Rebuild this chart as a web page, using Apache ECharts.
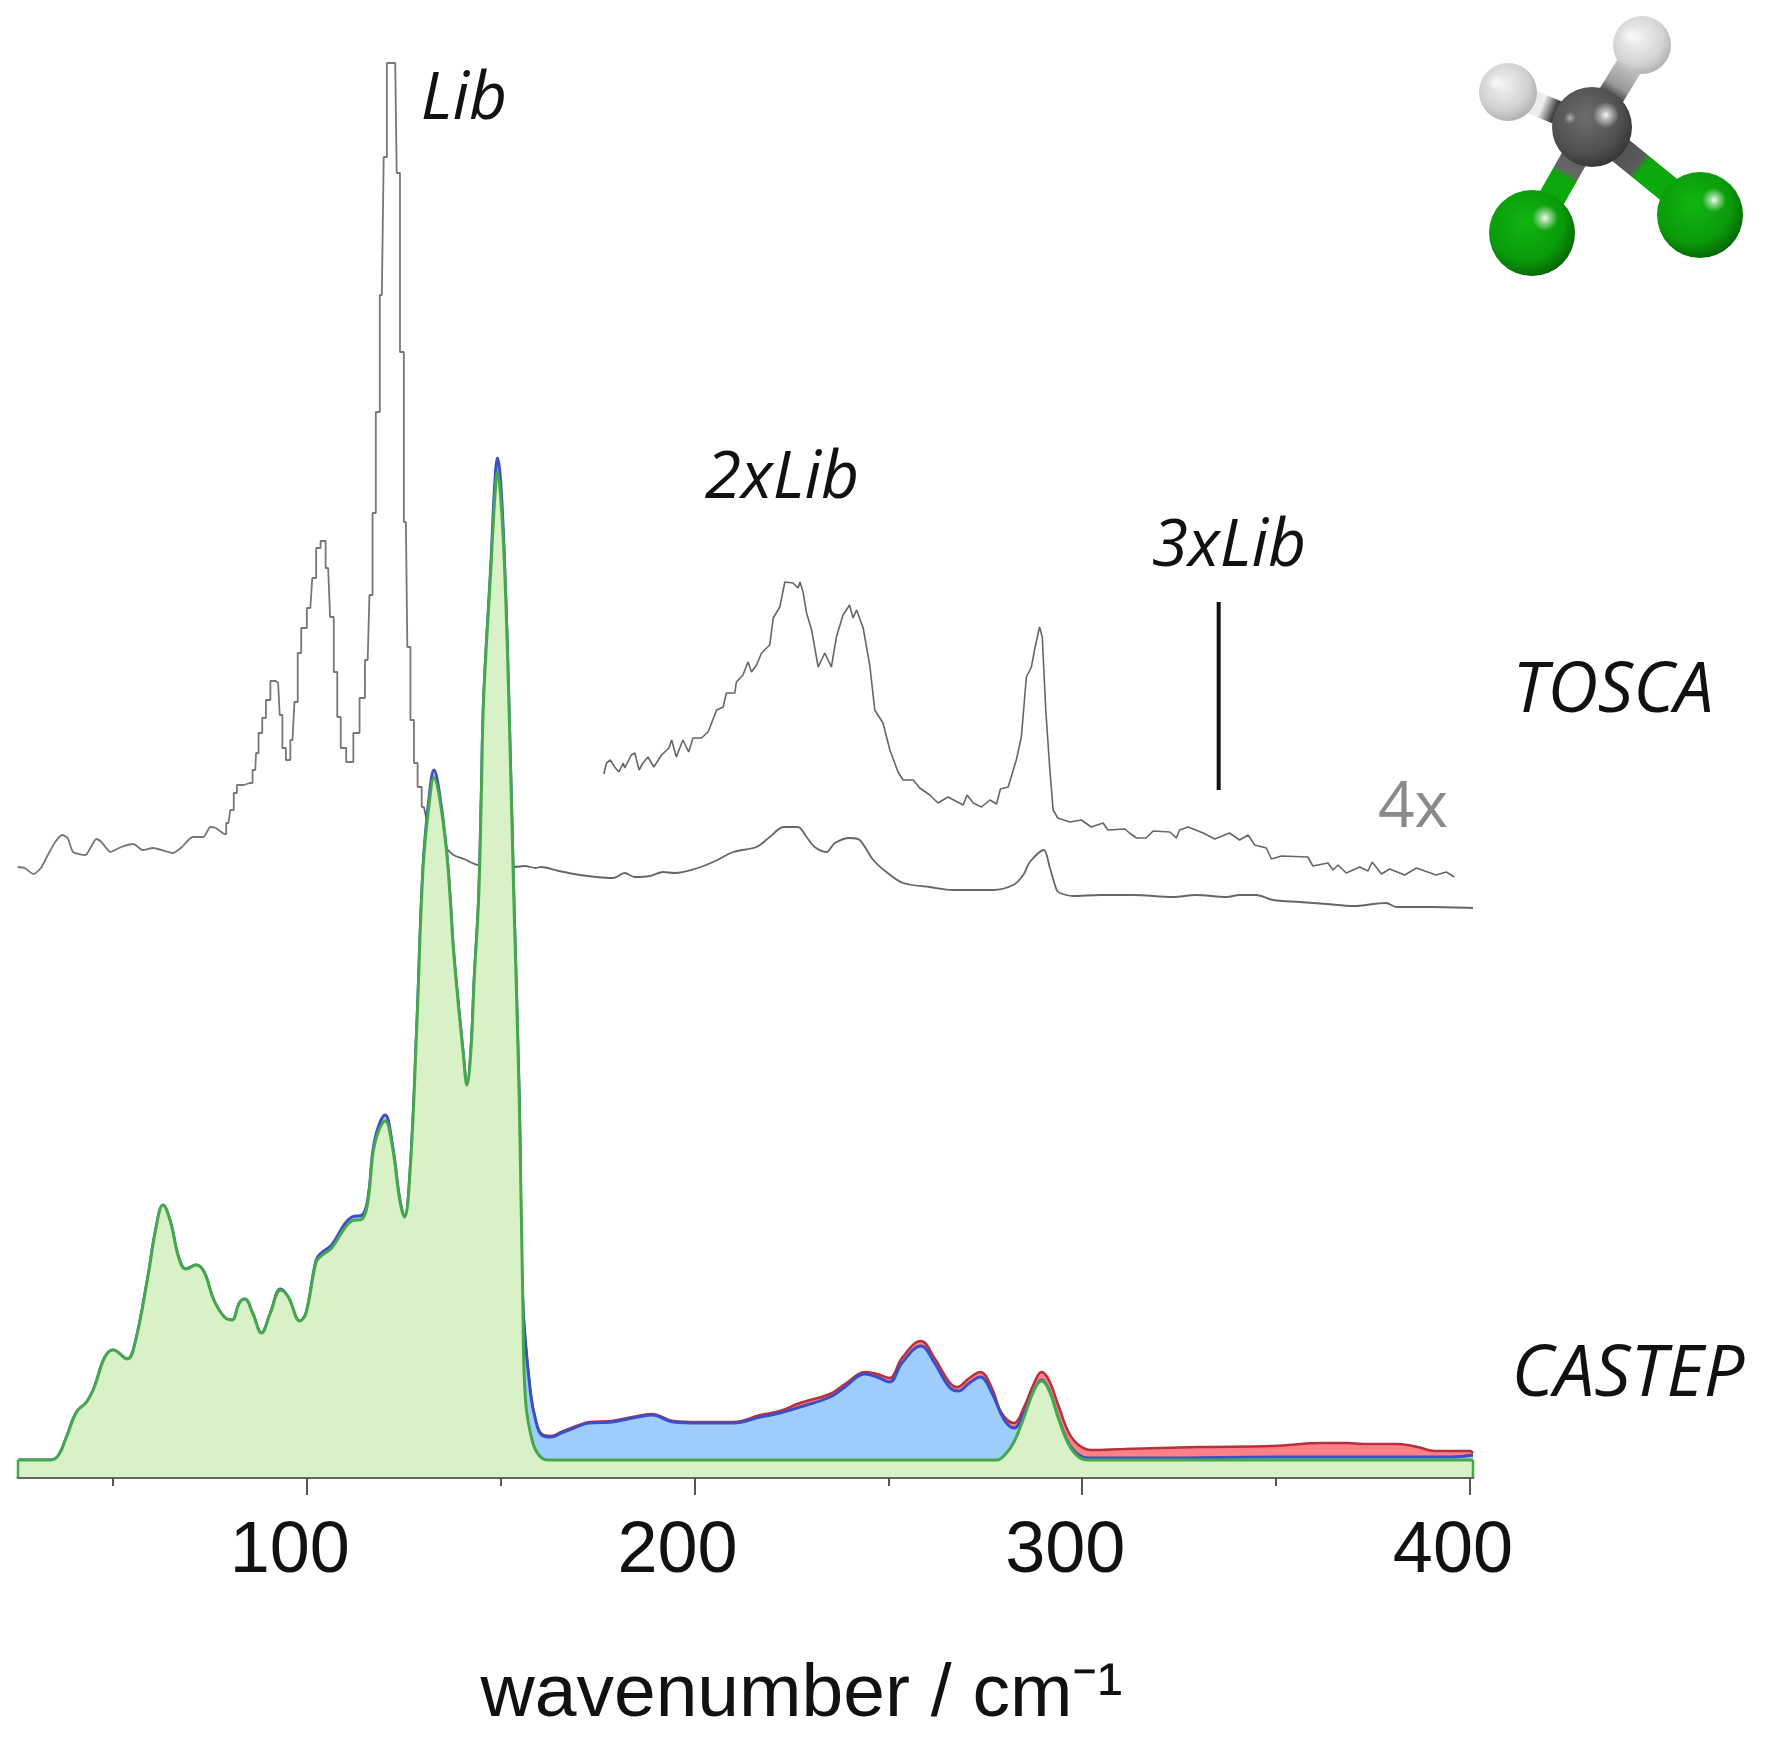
<!DOCTYPE html>
<html><head><meta charset="utf-8">
<style>html,body{margin:0;padding:0;background:#fff}#c{width:1781px;height:1751px}</style>
<script src="https://cdn.jsdelivr.net/npm/echarts@6/dist/echarts.min.js"></script>
</head><body><div id="c"></div>
<script>
const xMajorTicks=[100,200,300,400];
const xMinorTicks=[50,150,250,350];
const xTitle='wavenumber / cm\u207B\u00B9';
const toscaBase=[[25.4,610],[27.2,609],[29.5,603],[31.4,609],[33.2,622],[35.1,635],[36.9,642],[38.3,639],[39.7,625],[42.9,622],[44.3,630],[45.7,638],[47,635],[49.4,625],[52.1,630],[55.3,633],[57.6,627],[60.4,629],[65.5,624],[67.8,630],[70.5,640],[73.3,640],[75.1,650],[76.5,649],[78.6,643]];
const toscaPeak=[[78.6,643],[79.8,654],[80.7,667],[81.6,684],[82.3,692],[85.3,694],[86.7,707],[87.1,724],[88,744],[89,759],[89.9,777],[91.3,796],[92.6,794],[93.4,762],[94,729],[95.2,717],[96.3,737],[97.3,775],[98,824],[99.1,849],[100.9,869],[101.9,899],[102.9,929],[104.2,936],[105.5,909],[106.5,860],[107.4,805],[108.3,760],[109.2,729],[111.1,715],[112.9,744],[114.3,779],[115.7,817],[116.6,882],[117.3,964],[118.3,1065],[119.35,1182],[120.3,1320],[121,1414],[122.8,1414],[123.55,1304],[124.5,1125],[125.55,955],[126.3,830],[127.15,757],[128.1,714],[129.05,690],[130.2,670]];
const toscaHigh=[[130.2,670],[131.5,650],[133,640],[135,632],[136.4,627],[137.8,622],[140.5,618],[144.2,612],[153.4,610],[156.2,611],[159,609],[160.4,610],[165,606],[170.4,602],[174.7,600],[179,599],[182,604],[184.6,600],[188.5,601],[191.9,605],[194.9,604],[200,608],[204.8,615],[210,625],[216,630],[219.4,640],[222.9,650],[226.7,650],[228.9,640],[231,630],[234,625],[236.2,634],[240,639],[242.6,637],[246.1,617],[249.5,605],[253.8,594],[260.7,590],[266.7,587],[277,587],[282.2,592],[284.8,602],[286.5,615],[290.1,627],[291.6,610],[293.4,587],[294.2,584],[297.6,581],[304.5,582],[313.1,582],[323.4,580],[329.4,582],[337.2,580],[340.6,582],[344.9,582],[349.2,577],[356.1,575],[363,573],[369.9,571],[378.4,574],[381,570],[390.5,570],[400.8,569]];
const tosca4x=[[176.6,703],[177.3,714],[178.3,717],[179.4,710],[180.5,705],[181.6,714],[182,709],[183.7,722],[184.6,724],[185.7,707],[186.7,714],[188,720],[189.5,710],[191.5,722],[193.4,729],[194.1,737],[195.3,720],[197,737],[198.5,725],[199.6,739],[201.8,739],[203.5,745],[205.7,767],[207.4,770],[208.2,784],[210.4,784],[210.8,795],[212.5,802],[213.8,815],[214.7,805],[216,812],[217.3,824],[219.4,832],[220.3,859],[222,870],[223.3,895],[225.4,894],[226.7,889],[227.2,895],[228,885],[228.9,864],[230.2,847],[231.9,810],[233.6,824],[235.3,810],[236.6,840],[238.3,862],[240,872],[240.9,859],[241.8,867],[243.5,849],[245.2,812],[246.5,767],[248.6,754],[250.4,727],[252.5,705],[253.8,697],[256.4,697],[258.1,689],[260.7,682],[262.8,674],[265.4,680],[269.3,672],[270.3,682],[271.9,674],[274,670],[276.2,677],[277.9,673],[278.9,688],[280.9,690],[283,717],[284.3,740],[285.6,800],[286.9,810],[287.8,829],[289,850],[289.7,840],[290.6,767],[291.6,710],[292.5,667],[293.7,659],[296.8,655],[299.8,657],[302.3,650],[305.4,654],[306.6,647],[311,648],[312.2,644],[314,639],[316.5,639],[318.3,646],[322.6,645],[324.3,639],[325.1,647],[327.3,650],[331.2,644],[334.2,638],[338,644],[340.6,637],[342.8,642],[344.5,632],[347.5,629],[348.8,618],[351.4,621],[358.2,620],[359.5,611],[363.4,614],[364.7,607],[366,612],[368.1,604],[371.6,610],[373.7,606],[374.8,615],[377.2,603],[379.3,608],[383.2,602],[386.2,609],[391.3,602],[393.9,605],[396,600]];
const lib3xMark=[[335.2,687],[335.2,875]];
const castepGreen=[[25.5,17],[34,17],[36,22],[38,40],[40.6,65],[43.2,75],[45.2,90],[47.8,119],[50,127],[53.7,118],[55.7,134],[59,200],[61,247],[62.9,272],[64.9,254],[66.9,220],[68.8,208],[71.5,212],[73.5,205],[76,177],[78.7,160],[80.7,157],[82.6,174],[84,178],[86,164],[88.3,144],[90.6,164],[93.2,187],[95.2,180],[98.2,156],[99.8,164],[102.4,215],[103.7,221],[106.4,229],[109.6,248],[111.6,256],[114.3,258],[115.8,277],[117.5,333],[120.2,356],[122,332],[124,276],[125.2,260],[126.7,310],[128.4,454],[130,610],[131.6,675],[132.8,699],[134.2,680],[136,627],[137,577],[137.9,523],[140.4,421],[141.3,392],[142.3,425],[143.2,500],[144.3,577],[145,680],[145.6,777],[147.5,910],[148.5,980],[149.2,1005],[150,980],[151,910],[152.1,777],[153.4,577],[154.8,377],[155.7,177],[156.4,77],[158.3,34],[160.3,20],[162.3,17],[200,17],[240,17],[278,17],[280,22],[282.4,35],[285,60],[287.6,87],[289.5,96],[291.4,87],[294,57],[296.6,32],[299.1,20],[301.7,17],[350,17],[400.8,17]];
const castepBlue=[[25.5,17],[34,17],[36,22],[38,40],[40.6,65],[43.2,75],[45.2,90],[47.8,119],[50,127],[53.7,118],[55.7,134],[59,200],[61,247],[62.9,272],[64.9,254],[66.9,220],[68.8,208],[71.5,212],[73.5,205],[76,177],[78.7,160],[80.7,157],[82.6,174],[84,178],[86,164],[88.3,144],[90.6,164],[93.2,188],[95.2,180],[98.2,156],[99.8,164],[102.4,217],[103.7,224],[106.4,232],[109.6,252],[111.6,260],[114.3,262],[115.8,280],[117.5,337],[120.2,362],[122,334],[124,277],[125.2,260],[126.7,310],[128.4,454],[130,612],[131.6,682],[132.8,707],[134.2,684],[136,627],[137,577],[137.9,523],[140.4,421],[141.3,392],[142.3,425],[143.2,500],[144.3,577],[145,680],[145.6,777],[147.5,915],[148.5,995],[149.2,1019],[150,995],[151,915],[152.1,777],[153.4,577],[154.8,377],[155.7,177],[157.7,84],[159,57],[160.6,42],[163,40],[165.6,44],[169.5,50],[172.8,54],[178.7,55],[184,59],[189,62],[194.5,55],[201,54],[210,54],[217,60],[222,64],[227.2,70],[235,80],[238.8,90],[243.9,103],[247.1,100],[250.3,95],[253.5,114],[258.4,131],[261.9,114],[265.7,90],[268,86],[270.9,94],[273.7,100],[276.7,84],[279.9,57],[282.4,49],[285,64],[287.6,87],[289.5,97],[291.4,87],[294,57],[296.6,33],[299.1,22],[301.7,19],[320,19],[350,20],[380,20],[395,20],[400.8,22]];
const castepRed=[[154.8,377],[155.7,177],[157.7,84],[159,57],[160.6,43],[163,41],[165.6,45],[169.5,51],[172.8,55],[178.7,56],[184,60],[189,63],[194.5,56],[201,55],[210,55],[217,62],[222,66],[227.2,74],[234.9,83],[238.8,93],[244.2,105],[247.1,103],[250.3,99],[253.5,119],[258.4,136],[261.9,119],[265.7,95],[267.7,90],[270.9,99],[273.7,105],[276.7,89],[279.2,64],[282.4,54],[285,70],[287.6,94],[289.5,105],[291.4,97],[294,70],[296.6,44],[299.1,32],[302.3,27],[310.7,28],[330,30],[349.2,31],[362,34],[368.5,34],[372.4,33],[381.3,33],[386.5,30],[391,26],[400,26],[400.8,24]];
const edgeLeft=[[25.5,0],[25.5,17]];
const edgeRight=[[400.8,0],[400.8,17]];

const xMin=25.5,xMax=400.8;
const grad=(x1,y1,x2,y2,stops)=>new echarts.graphic.LinearGradient(x1,y1,x2,y2,stops,true);
const atom=(cx,cy,r,c0,c1,c2)=>({type:'circle',shape:{cx,cy,r},style:{fill:new echarts.graphic.RadialGradient(0.42,0.38,0.68,[{offset:0,color:c0},{offset:0.65,color:c1},{offset:1,color:c2}])},z:20});
const shine=(cx,cy,r,o)=>({type:'circle',shape:{cx,cy,r},style:{fill:new echarts.graphic.RadialGradient(0.5,0.5,0.5,[{offset:0,color:'rgba(255,255,255,'+o+')'},{offset:0.35,color:'rgba(255,255,255,'+(o*0.6)+')'},{offset:1,color:'rgba(255,255,255,0)'}])},z:21});
const bond=(x1,y1,x2,y2,w,stops)=>({type:'line',shape:{x1,y1,x2,y2},style:{lineWidth:w,lineCap:'butt',stroke:grad(x1,y1,x2,y2,stops)},z:15});
const label=(text,x,y,size,color,style)=>({type:'text',x,y,style:{text,fontFamily:'"Open Sans"',fontSize:size,fontStyle:style||'italic',fill:color||'#111',align:'center',verticalAlign:'middle'},z:30});

const gray='#777';
const greenLine='#45a84c';
const smoothLine=(name,data,z,color,width,fill)=>({name,type:'line',data,smooth:0.4,symbol:'none',z,lineStyle:{color,width},itemStyle:{color},areaStyle:{color:fill,opacity:1}});
const chart=echarts.init(document.getElementById('c'),null,{renderer:'canvas'});
chart.setOption({
 animation:false,backgroundColor:'#fff',
 grid:{left:18,top:0,width:1455,height:1477,outerBoundsMode:'none',containLabel:false},
 xAxis:[
  {type:'value',min:xMin,max:xMax,position:'bottom',splitLine:{show:false},
   axisLine:{show:true,onZero:false,lineStyle:{color:'#666',width:3}},
   axisTick:{show:true,customValues:xMajorTicks,length:18,lineStyle:{color:'#555',width:2}},
   axisLabel:{show:true,customValues:xMajorTicks,margin:39,formatter:'{v|{value}}',rich:{v:{fontFamily:'"Liberation Sans"',fontSize:72,color:'#111',padding:[0,34,0,0]}}},
   name:xTitle,nameLocation:'middle',nameGap:181,
   nameTextStyle:{fontFamily:'"Liberation Sans"',fontSize:75,color:'#111',padding:[0,0,0,112]}},
  {type:'value',min:xMin,max:xMax,position:'bottom',splitLine:{show:false},
   axisLine:{show:false},
   axisTick:{show:true,customValues:xMinorTicks,length:9,lineStyle:{color:'#555',width:2}},
   axisLabel:{show:false}}
 ],
 yAxis:{type:'value',min:0,max:1477,show:false},
 series:[
  {name:'TOSCA',type:'line',data:toscaBase,smooth:0.2,symbol:'none',z:2,lineStyle:{color:gray,width:1.8}},
  {name:'TOSCA',type:'line',data:toscaPeak,step:'middle',symbol:'none',z:2,lineStyle:{color:gray,width:1.8}},
  {name:'TOSCA',type:'line',data:toscaHigh,smooth:0.3,symbol:'none',z:2,lineStyle:{color:'#666',width:1.8}},
  {name:'TOSCA 4x',type:'line',data:tosca4x,symbol:'none',z:2,lineStyle:{color:'#666',width:1.6}},
  {name:'3xLib',type:'line',data:lib3xMark,symbol:'none',z:2,lineStyle:{color:'#111',width:4}},
  smoothLine('CASTEP red',castepRed,3,'#b8303c',2.5,'#ff8086'),
  smoothLine('CASTEP blue',castepBlue,4,'#3d4fc4',3,'#9fcdfb'),
  smoothLine('CASTEP green',castepGreen,5,greenLine,3,'#d8f1c6'),
  {name:'edge',type:'line',data:edgeLeft,symbol:'none',z:6,lineStyle:{color:greenLine,width:2.5}},
  {name:'edge',type:'line',data:edgeRight,symbol:'none',z:6,lineStyle:{color:greenLine,width:2.5}}
 ],
 graphic:[
  label('Lib',464,100,66),
  label('2xLib',782,479,66),
  label('3xLib',1229,547,66),
  label('TOSCA',1613,692,70),
  label('4x',1413,809,64,'#8a8a8a','normal'),
  label('CASTEP',1628,1375,72),
  bond(1592,127,1642,45,27,[{offset:0,color:'#333'},{offset:0.38,color:'#444'},{offset:0.5,color:'#999'},{offset:1,color:'#eee'}]),
  bond(1592,127,1508,92,24,[{offset:0,color:'#333'},{offset:0.45,color:'#444'},{offset:0.6,color:'#eee'},{offset:1,color:'#ddd'}]),
  bond(1592,127,1532,233,27,[{offset:0,color:'#555'},{offset:0.42,color:'#666'},{offset:0.47,color:'#0ca80c'},{offset:1,color:'#0ca80c'}]),
  bond(1592,127,1700,215,27,[{offset:0,color:'#444'},{offset:0.42,color:'#5a5a5a'},{offset:0.47,color:'#0ca80c'},{offset:1,color:'#0ca80c'}]),
  atom(1508,92,29,'#f2f2f2','#d0d0d0','#a8a8a8'),
  atom(1642,45,29,'#f4f4f4','#d4d4d4','#aaaaaa'),
  atom(1592,127,40,'#6e6e6e','#505050','#303030'),
  atom(1532,233,43,'#12b512','#0a9a0a','#045c04'),
  atom(1700,215,43,'#12b512','#0a9a0a','#045c04'),
  shine(1606,115,13,0.95),shine(1570,118,6,0.5),shine(1545,218,13,0.95),shine(1714,200,12,0.95),shine(1630,36,10,0.8),shine(1496,82,9,0.8)
 ]
});
</script></body></html>
